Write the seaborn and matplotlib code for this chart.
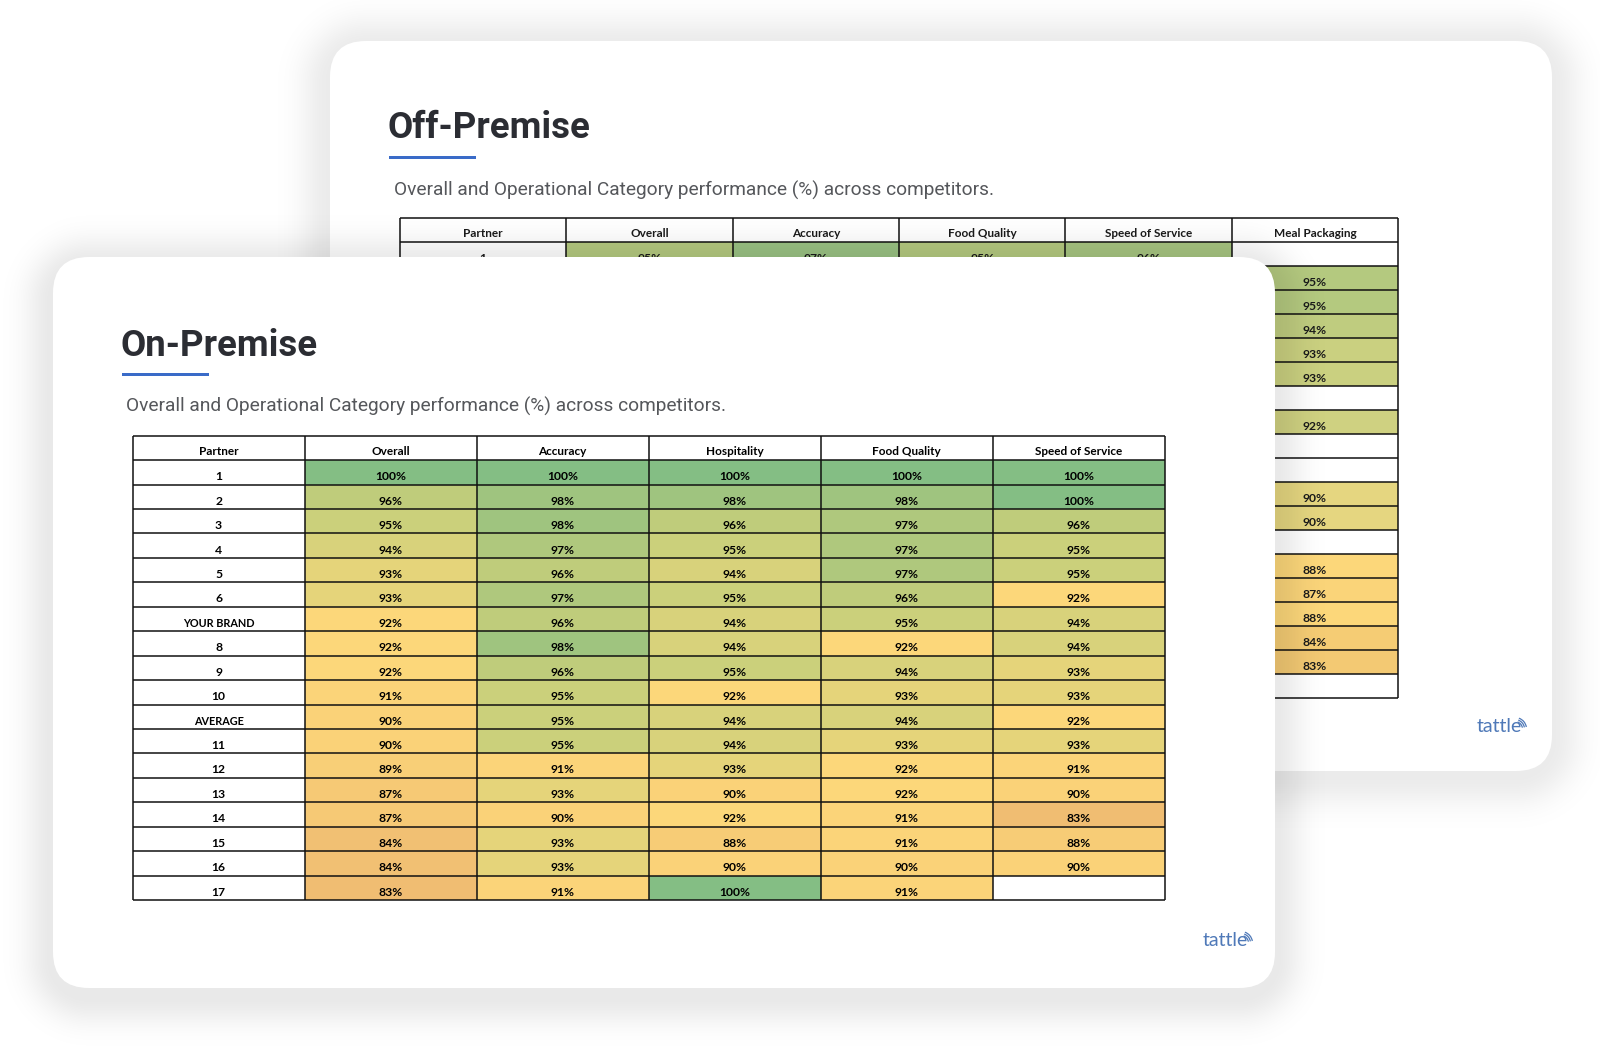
import numpy as np
import pandas as pd
import seaborn as sns
import matplotlib.pyplot as plt
from matplotlib.colors import LinearSegmentedColormap
from matplotlib.patches import FancyBboxPatch, Arc, Rectangle

nan = np.nan

# on-premise table
front_partner = ["1", "2", "3", "4", "5", "6", "YOUR BRAND", "8", "9", "10", "AVERAGE",
                 "11", "12", "13", "14", "15", "16", "17"]
front_overall = [100, 96, 95, 94, 93, 93, 92, 92, 92, 91, 90, 90, 89, 87, 87, 84, 84, 83]
front_accuracy = [100, 98, 98, 97, 96, 97, 96, 98, 96, 95, 95, 95, 91, 93, 90, 93, 93, 91]
front_hospitality = [100, 98, 96, 95, 94, 95, 94, 94, 95, 92, 94, 94, 93, 90, 92, 88, 90, 100]
front_food = [100, 98, 97, 97, 97, 96, 95, 92, 94, 93, 94, 93, 92, 92, 91, 91, 90, 91]
front_speed = [100, 100, 96, 95, 95, 92, 94, 94, 93, 93, 92, 93, 91, 90, 83, 88, 90, nan]

# off-premise table, most of it is hidden behind the front card
back_partner = ["1"] + [""] * 18
back_overall = [95] + [nan] * 18
back_accuracy = [97] + [nan] * 18
back_food = [95] + [nan] * 18
back_speed = [96] + [nan] * 18
back_packaging = [nan, 95, 95, 94, 93, 93, nan, 92, nan, nan, 90, 90, nan, 88, 87, 88, 84, 83, nan]

front_cols = ["Overall", "Accuracy", "Hospitality", "Food Quality", "Speed of Service"]
back_cols = ["Overall", "Accuracy", "Food Quality", "Speed of Service", "Meal Packaging"]

front_df = pd.DataFrame(dict(zip(front_cols, [front_overall, front_accuracy, front_hospitality, front_food, front_speed])))
back_df = pd.DataFrame(dict(zip(back_cols, [back_overall, back_accuracy, back_food, back_speed, back_packaging])))

W, H = 1600, 1049
sns.set_theme(style="white")
plt.rcParams["font.family"] = ["Roboto", "DejaVu Sans"]
fig = plt.figure(figsize=(W / 100, H / 100), dpi=100, facecolor="white")


def make_cmap(stops):
    lo, hi = stops[0][0], stops[-1][0]
    return LinearSegmentedColormap.from_list("c", [((v - lo) / (hi - lo), c) for v, c in stops]), lo, hi


def pixel_layer(z):
    ax = fig.add_axes([0, 0, 1, 1], zorder=z)
    ax.set_xlim(0, W)
    ax.set_ylim(H, 0)
    ax.axis("off")
    ax.patch.set_alpha(0)
    return ax


def shadow(ax, x0, y0, x1, y1, r, peak, sigma, dy=0):
    # soft shadow from distance to a rounded box
    xx, yy = np.meshgrid(np.arange(W) + 0.5, np.arange(H) + 0.5)
    cx, cy = (x0 + x1) / 2, (y0 + y1) / 2 + dy
    qx = np.abs(xx - cx) - (x1 - x0) / 2 + r
    qy = np.abs(yy - cy) - (y1 - y0) / 2 + r
    d = np.hypot(np.clip(qx, 0, None), np.clip(qy, 0, None)) + np.minimum(np.maximum(qx, qy), 0) - r
    alpha = peak * np.exp(-(np.clip(d, 0, None) / sigma) ** 2)
    img = np.zeros((H, W, 4))
    img[..., 3] = alpha
    ax.imshow(img, extent=(0, W, H, 0), aspect="auto", interpolation="bilinear")
    ax.set_xlim(0, W)
    ax.set_ylim(H, 0)


def card(ax, x0, y0, x1, y1, r):
    ax.add_patch(FancyBboxPatch((x0, y0), x1 - x0, y1 - y0, boxstyle=f"round,pad=0,rounding_size={r}",
                                fc="white", ec="none"))


def heading(ax, x, y, title, sub_x, sub_y, bar):
    ax.text(x, y, title, fontsize=26.4, fontweight="bold", color="#2b2d33", va="center", ha="left")
    ax.add_patch(Rectangle((bar[0], bar[1]), bar[2] - bar[0], 3, fc="#3a6bc8", ec="none"))
    ax.text(sub_x, sub_y, "Overall and Operational Category performance (%) across competitors.",
            fontsize=13.8, color="#55575b", va="center", ha="left")


def logo(ax, x, y):
    ax.text(x, y, "tattle", fontsize=14, family="Lato", color="#4f79b8", va="center", ha="left")
    for r in [7.5, 9.5, 11.5]:
        ax.add_patch(Arc((x + 38, y + 2), 2 * r, 2 * r, theta1=-70, theta2=-10, color="#4f79b8", lw=0.9))


def draw_table(df, partners, headers, box, stops, z, text_color="black"):
    x0, y0, x1, y1 = box
    ax = fig.add_axes([x0 / W, 1 - y1 / H, (x1 - x0) / W, (y1 - y0) / H], zorder=z)
    ax.patch.set_alpha(0)
    cmap, lo, hi = make_cmap(stops)
    labels = df.map(lambda v: "" if pd.isna(v) else f"{v:.0f}%")
    sns.heatmap(df, ax=ax, cmap=cmap, vmin=lo, vmax=hi, cbar=False, annot=labels, fmt="",
                annot_kws={"fontsize": 8.7, "fontweight": "bold", "family": "Lato", "color": text_color},
                xticklabels=False, yticklabels=False)
    nrows, ncols = df.shape
    ax.set_xlim(-1, ncols)
    ax.set_ylim(nrows, -1)
    ax.set_xlabel("")
    ax.set_ylabel("")
    for t in ax.texts:
        px, py = t.get_position()
        t.set_position((px, py + 0.18))
    ax.hlines(np.arange(-1, nrows + 1), -1, ncols, color="#111111", lw=1.1, clip_on=False)
    ax.vlines(np.arange(-1, ncols + 1), -1, nrows, color="#111111", lw=1.1, clip_on=False)
    kw = dict(ha="center", va="center", fontweight="bold", family="Lato", color=text_color)
    ax.text(-0.5, -0.36, "Partner", fontsize=8.5, **kw)
    for i, h in enumerate(headers):
        ax.text(i + 0.5, -0.36, h, fontsize=8.5, **kw)
    for i, p in enumerate(partners):
        ax.text(-0.5, i + 0.68, p, fontsize=7.8 if p.isupper() else 8.7, **kw)
    for s in ax.spines.values():
        s.set_visible(False)
    ax.tick_params(length=0)
    return ax


# back card
back_layer = pixel_layer(1)
shadow(back_layer, 330, 41, 1552, 771, 36, 0.08, 30, dy=5)
card(back_layer, 330, 41, 1552, 771, 36)
heading(back_layer, 387.5, 128, "Off-Premise", 394, 190, (389, 156, 476))
logo(back_layer, 1477, 727)

back_stops = [(83, "#F3C973"), (88, "#FCD77A"), (90, "#E5D680"), (92, "#CFD181"), (93, "#CAD080"),
              (95, "#B4C97F"), (97, "#9AC283")]
draw_table(back_df, back_partner, back_cols, (400, 218, 1398, 698), back_stops, 2, text_color="#1a1a1a")

# front card
shade = pixel_layer(3)
shadow(shade, 53, 257, 1275, 988, 36, 0.09, 28, dy=8)

front_layer = pixel_layer(4)
card(front_layer, 53, 257, 1275, 988, 36)
heading(front_layer, 120.5, 346, "On-Premise", 126.5, 406.5, (122, 373, 209))
logo(front_layer, 1203, 941)

front_stops = [(83, "#F0BD72"), (88, "#F7CC76"), (92, "#FCD77A"), (93, "#E5D47A"), (95, "#CBD07B"),
               (96, "#BFCC7B"), (98, "#9FC47F"), (100, "#84BE84")]
draw_table(front_df, front_partner, front_cols, (132.6, 435.7, 1164.5, 900), front_stops, 5)

fig.savefig("out.png", dpi=100, facecolor="white")
